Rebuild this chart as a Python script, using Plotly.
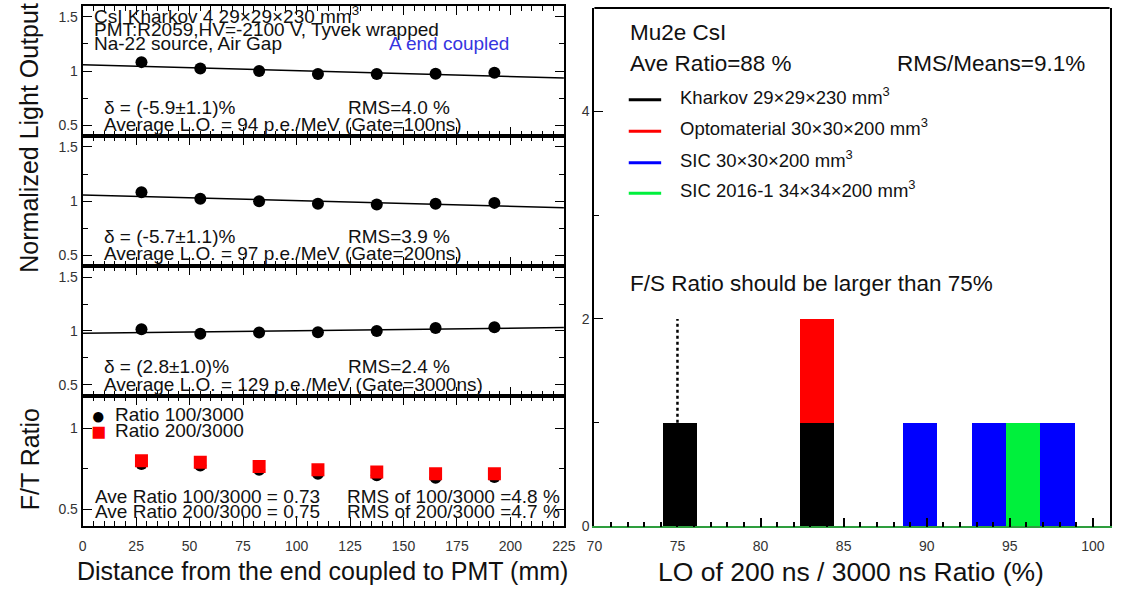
import plotly.graph_objects as go

W, H = 1124, 594
FONT = "Liberation Sans, Arial, Helvetica, sans-serif"

# ---------------- data ----------------
distance_mm = [27.5, 55, 82.5, 110, 137.5, 165, 192.5]
lo_gate100 = [1.082, 1.024, 1.00, 0.972, 0.972, 0.976, 0.985]
lo_gate200 = [1.082, 1.022, 1.00, 0.978, 0.970, 0.977, 0.985]
lo_gate3000 = [1.015, 0.975, 0.985, 0.988, 1.000, 1.028, 1.035]
fit_x = [0, 225]
fit_gate100 = [1.058, 0.935]
fit_gate200 = [1.058, 0.940]
fit_gate3000 = [0.978, 1.032]
ratio_100_3000 = [0.78, 0.77, 0.745, 0.72, 0.71, 0.695, 0.70]
ratio_200_3000 = [0.80, 0.79, 0.765, 0.745, 0.73, 0.72, 0.72]

lo_x_ticks = [0, 25, 50, 75, 100, 125, 150, 175, 200, 225]

# histogram of LO 200ns/3000ns ratio (%): bin centres and counts per crystal type
bin_width = 2.067
kharkov_bins = [75.17, 83.43]
kharkov_counts = [1, 1]
opto_bins = [83.43]
opto_counts = [1]
sic_bins = [89.63, 93.77, 97.90]
sic_counts = [1, 1, 1]
sic2016_bins = [95.83]
sic2016_counts = [1]
spec_x = [75, 75]
spec_y = [1, 2]

legend_names = ["Kharkov 29×29×230 mm<sup>3</sup>",
                "Optomaterial 30×30×200 mm<sup>3</sup>",
                "SIC 30×30×200 mm<sup>3</sup>",
                "SIC 2016-1 34×34×200 mm<sup>3</sup>"]
legend_colors = ["#000000", "#ff0000", "#0000ff", "#00f03c"]

# ---------------- helpers ----------------
def px(x):
    return x / W

def py(y):
    return 1 - y / H

left_dom = [px(76), px(566)]
panel_px = [(6, 138), (138, 270), (270, 401), (401, 533)]

fig = go.Figure()

panels = [(lo_gate100, fit_gate100), (lo_gate200, fit_gate200), (lo_gate3000, fit_gate3000)]
for i, (vals, fit) in enumerate(panels):
    k = "" if i == 0 else str(i + 1)
    fig.add_trace(go.Scatter(x=fit_x, y=fit, mode="lines", line=dict(color="black", width=1.5),
                             xaxis="x" + k, yaxis="y" + k, showlegend=False, hoverinfo="skip"))
    fig.add_trace(go.Scatter(x=distance_mm, y=vals, mode="markers",
                             marker=dict(color="black", size=12, symbol="circle"),
                             xaxis="x" + k, yaxis="y" + k, showlegend=False))

fig.add_trace(go.Scatter(x=distance_mm, y=ratio_100_3000, mode="markers",
                         marker=dict(color="black", size=12, symbol="circle"),
                         xaxis="x4", yaxis="y4", showlegend=False))
fig.add_trace(go.Scatter(x=distance_mm, y=ratio_200_3000, mode="markers",
                         marker=dict(color="#ff0000", size=13, symbol="square"),
                         xaxis="x4", yaxis="y4", showlegend=False))

# histogram
for xs, ys, c in [(kharkov_bins, kharkov_counts, legend_colors[0]),
                  (opto_bins, opto_counts, legend_colors[1]),
                  (sic_bins, sic_counts, legend_colors[2]),
                  (sic2016_bins, sic2016_counts, legend_colors[3])]:
    fig.add_trace(go.Bar(x=xs, y=ys, width=bin_width, marker=dict(color=c, line=dict(width=0)),
                         xaxis="x5", yaxis="y5", showlegend=False))
fig.add_trace(go.Scatter(x=spec_x, y=spec_y, mode="lines", line=dict(color="black", width=2.5, dash="dot"),
                         xaxis="x5", yaxis="y5", showlegend=False))

tickfont = dict(family=FONT, size=14, color="#333")

def left_xaxis(anchor, show_labels):
    return dict(domain=left_dom, range=[0, 225], anchor=anchor, showline=True, linewidth=2,
                linecolor="black", mirror="ticks", ticks="inside", ticklen=9, tickwidth=1,
                tickcolor="black", tickvals=lo_x_ticks, showticklabels=show_labels,
                ticklabelstandoff=6,
                minor=dict(ticks="inside", ticklen=5, dtick=5, tick0=0, tickcolor="black"),
                showgrid=False, zeroline=False, tickfont=tickfont, fixedrange=True)

def left_yaxis(anchor, dom, rng, tickvals, minorvals):
    return dict(domain=dom, range=rng, anchor=anchor, showline=True, linewidth=2,
                linecolor="black", mirror="ticks", ticks="inside", ticklen=9, tickwidth=1,
                tickcolor="black", tickvals=tickvals, ticktext=[("%g" % v) for v in tickvals],
                minor=dict(ticks="inside", ticklen=5, tickvals=minorvals, tickcolor="black"),
                showgrid=False, zeroline=False, tickfont=tickfont, fixedrange=True)

layout = dict(width=W, height=H, margin=dict(l=0, r=0, t=0, b=0),
              paper_bgcolor="white", plot_bgcolor="white", barmode="stack", bargap=0,
              font=dict(family=FONT, color="#111"), showlegend=False)
for i in range(4):
    k = "" if i == 0 else str(i + 1)
    top, bot = panel_px[i]
    dom = [py(bot), py(top)]
    layout["xaxis" + k] = left_xaxis("y" + k, i == 3)
    if i < 3:
        layout["yaxis" + k] = left_yaxis("x" + k, dom, [0.4, 1.6], [0.5, 1, 1.5], [0.75, 1.25])
    else:
        layout["yaxis" + k] = left_yaxis("x" + k, dom, [0.4, 1.2], [0.5, 1], [0.75])

layout["xaxis5"] = dict(domain=[px(597), px(1121.5)], range=[70, 101], anchor="y5",
                        showline=True, linewidth=1.5, linecolor="#2e9e3e", mirror=False,
                        ticks="inside", ticklen=9, tickwidth=1.5, tickcolor="black",
                        tickvals=[70, 75, 80, 85, 90, 95, 100], ticklabelstandoff=6,
                        minor=dict(ticks="inside", ticklen=5, dtick=1, tick0=70, tickcolor="black"),
                        showgrid=False, zeroline=False, tickfont=tickfont, fixedrange=True)
layout["yaxis5"] = dict(domain=[py(533.5), py(8)], range=[0, 5], anchor="x5",
                        showline=True, linewidth=2, linecolor="black", mirror=True,
                        ticks="inside", ticklen=9, tickwidth=1, tickcolor="black",
                        tickvals=[0, 2, 4],
                        minor=dict(ticks="inside", ticklen=5, tickvals=[1, 3], tickcolor="black"),
                        showgrid=False, zeroline=False, tickfont=tickfont, fixedrange=True)

fig.update_layout(**layout)

shapes = [dict(type="line", xref="x5 domain", yref="y5 domain", x0=0, x1=1, y0=1, y1=1,
               line=dict(color="black", width=2))]
ann = []

def txt(x, y, s, size=19, color="#111", xanchor="left", angle=0):
    ann.append(dict(x=px(x), y=py(y), xref="paper", yref="paper", text=s, showarrow=False,
                    xanchor=xanchor, yanchor="middle", textangle=angle,
                    font=dict(family=FONT, size=size, color=color)))

# left panel texts
txt(86, 15, "CsI Kharkov 4 29×29×230 mm<sup>3</sup>")
txt(86, 30, "PMT:R2059,HV=-2100 V, Tyvek wrapped")
txt(86, 44, "Na-22 source, Air Gap")
txt(386, 44, "A end coupled", color="#3535e0")

deltas = ["δ = (-5.9±1.1)%", "δ = (-5.7±1.1)%", "δ = (2.8±1.0)%"]
rmss = ["RMS=4.0 %", "RMS=3.9 %", "RMS=2.4 %"]
avgs = ["Average L.O. = 94 p.e./MeV (Gate=100ns)",
        "Average L.O. = 97 p.e./MeV (Gate=200ns)",
        "Average L.O. = 129 p.e./MeV (Gate=3000ns)"]
dy = [109, 240, 371]
ay = [126, 257, 390]
for i in range(3):
    txt(96, dy[i], deltas[i])
    txt(344, dy[i], rmss[i])
    txt(96, ay[i], avgs[i])

txt(92, 421, "●", size=24, color="black", xanchor="center")
txt(92, 437, "■", size=25, color="#ff0000", xanchor="center")
txt(107, 420, "Ratio 100/3000")
txt(107, 436, "Ratio 200/3000")
txt(87, 503, "Ave Ratio 100/3000 = 0.73")
txt(87, 518, "Ave Ratio 200/3000 = 0.75")
txt(343, 503, "RMS of 100/3000 =4.8 %")
txt(343, 518, "RMS of 200/3000 =4.7 %")

txt(22, 140, "Normalized Light Output", size=25, xanchor="center", angle=-90)
txt(22, 466, "F/T Ratio", size=25, xanchor="center", angle=-90)
txt(320, 579, "Distance from the end coupled to PMT (mm)", size=25, xanchor="center")

# right panel texts
txt(631, 33, "Mu2e CsI", size=22.5)
txt(631, 64, "Ave Ratio=88 %", size=22.5)
txt(903, 64, "RMS/Means=9.1%", size=22.5)
leg_y = [101, 133, 165, 196]
for yy, name, c in zip(leg_y, legend_names, legend_colors):
    shapes.append(dict(type="line", xref="paper", yref="paper", x0=px(632), x1=px(665),
                       y0=py(yy), y1=py(yy), line=dict(color=c, width=3)))
    txt(682, yy - 4, name, size=18.5)
txt(631, 287, "F/S Ratio should be larger than 75%", size=22.5)
txt(858, 580, "LO of 200 ns / 3000 ns Ratio (%)", size=26.5, xanchor="center")

fig.update_layout(shapes=shapes, annotations=ann)
fig.write_html("out.html", config={"displayModeBar": False},
               post_script="document.body.style.margin='0px';document.body.style.overflow='hidden';")
